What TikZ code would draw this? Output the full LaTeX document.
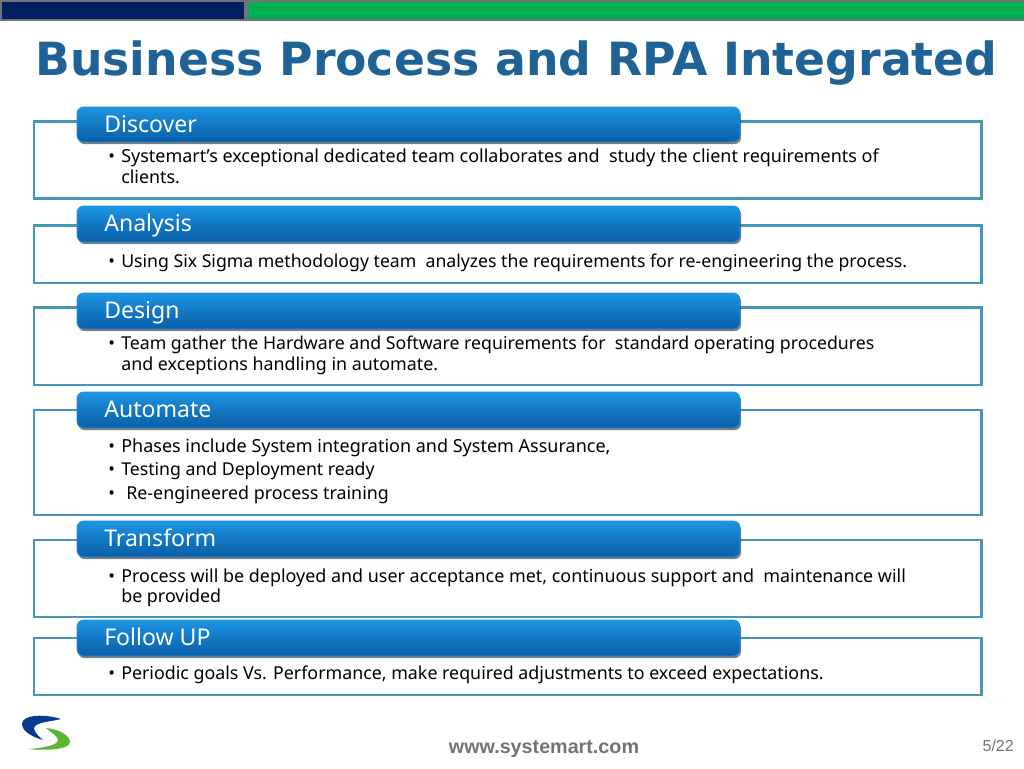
\documentclass[tikz,border=0pt]{standalone}
\usepackage{fontspec}
\setmainfont{Noto Sans}
\newfontfamily\titlefont{DejaVu Sans}
\newfontfamily\footfont{Liberation Sans}
\usetikzlibrary{shadows}
\definecolor{navybar}{HTML}{002060}
\definecolor{greenbar}{HTML}{00B050}
\definecolor{barframe}{HTML}{6F747A}
\definecolor{titleblue}{HTML}{1F6296}
\definecolor{boxline}{HTML}{4596B8}
\definecolor{headtop}{HTML}{1C96E4}
\definecolor{headbot}{HTML}{0A5FA8}
\definecolor{headline}{HTML}{2A8FD0}
\definecolor{logoblue}{HTML}{0A3A90}
\definecolor{logogreen}{HTML}{5DB534}
\tikzset{
  x=0.75pt,y=-0.75pt,
  panel/.style={draw=boxline,line width=1.9pt,fill=white},
  head/.style={rounded corners=5pt,top color=headtop,bottom color=headbot,middle color=headbot!55!headtop,draw=headline,line width=0.6pt,
    drop shadow={shadow xshift=0.8pt,shadow yshift=-1.6pt,opacity=0.5,fill=black}},
  headtext/.style={anchor=base west,inner sep=0pt,text=white,font=\fontsize{17.3}{20}\selectfont},
  bodytext/.style={anchor=base west,inner sep=0pt,text=black,font=\fontsize{#1}{16}\selectfont},
  bodytext/.default=13.4,
  bar/.style={draw=barframe,line width=1.5pt},
}
\newcommand{\band}[5]{%
  \path[panel] (34,#2) rectangle (981.5,#3);
  \path[head] (77,#4) rectangle (740,#5);
}
\begin{document}
\begin{tikzpicture}
\useasboundingbox (0,0) rectangle (1024,768);
\fill[white] (0,0) rectangle (1024,768);
\path[bar,fill=navybar] (1,1) rectangle (245,20);
\path[bar,fill=greenbar] (247,1) rectangle (1025,20);
\node[anchor=base west,inner sep=0pt,text=titleblue,font=\titlefont\bfseries\fontsize{34.3}{40}\selectfont] (title) at (35,75) {Business Process and RPA Integrated};

\band{a}{121.5}{198.5}{107}{142}
\band{b}{225.5}{283}{206}{242}
\band{c}{307.5}{385}{293}{329}
\band{d}{410}{515}{392}{428}
\band{e}{540}{617}{521}{557}
\band{f}{638}{695}{620}{656}

\node[headtext] (h1) at (104,132) {Discover};
\node[headtext] (h2) at (104,231) {Analysis};
\node[headtext] (h3) at (104,318) {Design};
\node[headtext] (h4) at (104,417) {Automate};
\node[headtext] (h5) at (104,546) {Transform};
\node[headtext] (h6) at (104,645) {Follow UP};

\node[bodytext] (b1) at (108,162) {•};
\node[bodytext=13.47] (t1) at (121,162) {Systemart’s exceptional dedicated team collaborates and~ study the client requirements of};
\node[bodytext] (t1b) at (121,183) {clients.};
\node[bodytext] (b2) at (108,267) {•};
\node[bodytext=13.25] (t2) at (121,267) {Using Six Sigma methodology team~ analyzes the requirements for re-engineering the process.};
\node[bodytext] (b3) at (108,349) {•};
\node[bodytext=13.29] (t3) at (121,349) {Team gather the Hardware and Software requirements for~ standard operating procedures};
\node[bodytext] (t3b) at (121,370) {and exceptions handling in automate.};
\node[bodytext] (b4) at (108,452) {•};
\node[bodytext=13.5] (t4) at (121,452) {Phases include System integration and System Assurance,};
\node[bodytext] (b5) at (108,475) {•};
\node[bodytext=13.25] (t5) at (121,475) {Testing and Deployment ready};
\node[bodytext] (b6) at (108,499) {•};
\node[bodytext] (t6) at (126,499) {Re-engineered process training};
\node[bodytext] (b7) at (108,582) {•};
\node[bodytext=13.44] (t7) at (121,582) {Process will be deployed and user acceptance met, continuous support and~ maintenance will};
\node[bodytext] (t7b) at (121,602) {be provided};
\node[bodytext] (b8) at (108,679) {•};
\node[bodytext=13.37] (t8) at (121,679) {Periodic goals Vs. Performance, make required adjustments to exceed expectations.};

% logo
\fill[logoblue] (61,719) .. controls (46,714) and (22,714) .. (22,724) .. controls (22,731) and (32,737) .. (43,740) .. controls (36,734) and (32,729) .. (35,726) .. controls (39,722) and (54,721) .. (61,719) -- cycle;
\fill[logogreen] (46,728) .. controls (58,729) and (70,735) .. (70,742) .. controls (70,749) and (50,751) .. (28,749) .. controls (40,748) and (58,746) .. (58,740) .. controls (58,736) and (50,732) .. (46,728) -- cycle;

\node[anchor=base,inner sep=0pt,text=black!55,font=\footfont\bfseries\fontsize{14.8}{18}\selectfont] (web) at (544,753) {www.systemart.com};
\node[anchor=base east,inner sep=0pt,text=black!55,font=\footfont\fontsize{12}{14}\selectfont] (pg) at (1014,751) {5/22};
\end{tikzpicture}
\end{document}
